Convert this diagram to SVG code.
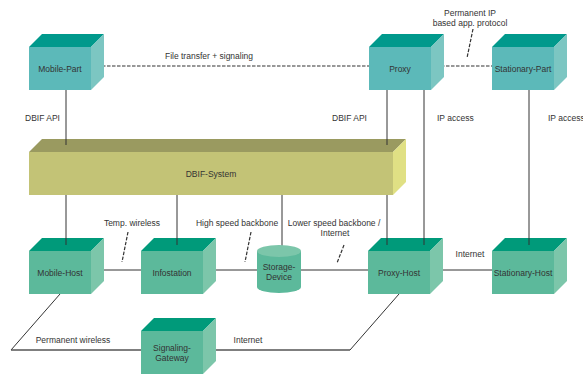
<svg xmlns="http://www.w3.org/2000/svg" width="583" height="374" viewBox="0 0 583 374">
<style>
text{font-family:"Liberation Sans",Arial,sans-serif;font-size:8.5px;fill:#333;}
.c{text-anchor:middle;}
.ptop{fill:#00998c;} .pfront{fill:#5cb9b9;} .pside{fill:#7cc6c2;}
.htop{fill:#009a7a;} .hfront{fill:#5cb99b;} .hside{fill:#7cc6aa;}
.ln{stroke:#333;stroke-width:1;fill:none;}
.gl{stroke:#555;stroke-width:1.6;fill:none;}
.ds{stroke:#333;stroke-width:1.2;stroke-dasharray:3.5,1.5;fill:none;}
</style>
<rect width="583" height="374" fill="#fff"/>
<g id="connectors">
<path class="ds" d="M97,66H369M436,66H492M473,29L467,58"/>
<path class="ln" d="M66,90V245M387,90V245M424,90V245M529,90V245M177,195V245M282,195V250"/>
<path class="ln" d="M97,270H141M208,270H257M301,270H368M436,270H492"/>
<path class="ds" d="M128,232L122,262M251,232L245,262M344,245L337,263"/>
<path class="ln" d="M60,294L11,350M399,294L350,350"/>
<path class="gl" d="M11,350H141M208,350H350"/>
</g>
<g id="labels">
<text class="c" x="209" y="59">File transfer + signaling</text>
<text class="c" x="470" y="16">Permanent IP</text>
<text class="c" x="470" y="26">based app. protocol</text>
<text x="25" y="121">DBIF API</text>
<text x="332" y="121">DBIF API</text>
<text x="437" y="121">IP access</text>
<text x="548" y="121">IP access</text>
<text class="c" x="132" y="226">Temp. wireless</text>
<text class="c" x="237" y="226">High speed backbone</text>
<text class="c" x="334" y="226">Lower speed backbone /</text>
<text class="c" x="335" y="236">Internet</text>
<text class="c" x="470" y="257">Internet</text>
<text class="c" x="73" y="343">Permanent wireless</text>
<text class="c" x="248" y="343">Internet</text>
</g>
<g id="mobile-part">
<polygon class="ptop" points="29,47 42,34 104,34 91,47"/>
<rect class="pfront" x="29" y="47" width="62" height="43"/>
<polygon class="pside" points="91,47 104,34 104,77 91,90"/>
<text class="c" x="60" y="72">Mobile-Part</text>
</g>
<g id="proxy">
<polygon class="ptop" points="369,47 382,34 444,34 431,47"/>
<rect class="pfront" x="369" y="47" width="62" height="43"/>
<polygon class="pside" points="431,47 444,34 444,77 431,90"/>
<text class="c" x="400" y="72">Proxy</text>
</g>
<g id="stationary-part">
<polygon class="ptop" points="492,47 505,34 567,34 554,47"/>
<rect class="pfront" x="492" y="47" width="62" height="43"/>
<polygon class="pside" points="554,47 567,34 567,77 554,90"/>
<text class="c" x="523" y="72">Stationary-Part</text>
</g>
<g id="dbif-system">
<polygon fill="#9a9a60" points="29,152 42,139 406,139 393,152"/>
<rect fill="#c3c376" x="29" y="152" width="364" height="43"/>
<polygon fill="#e0e084" points="393,152 406,139 406,182 393,195"/>
<text class="c" x="211" y="177">DBIF-System</text>
</g>
<g id="connectors-over">
<path class="ln" d="M66,139V145M387,139V145"/>
</g>
<g id="mobile-host">
<polygon class="htop" points="29,251 42,238 104,238 91,251"/>
<rect class="hfront" x="29" y="251" width="62" height="43"/>
<polygon class="hside" points="91,251 104,238 104,281 91,294"/>
<text class="c" x="60" y="276">Mobile-Host</text>
</g>
<g id="infostation">
<polygon class="htop" points="141,251 154,238 216,238 203,251"/>
<rect class="hfront" x="141" y="251" width="62" height="43"/>
<polygon class="hside" points="203,251 216,238 216,281 203,294"/>
<text class="c" x="172" y="276">Infostation</text>
</g>
<g id="storage-device">
<path class="hfront" d="M257,251V287A22,6 0 0 0 301,287V251Z"/>
<ellipse cx="279" cy="251" rx="22" ry="6" fill="#7cc6aa"/>
<text class="c" x="279" y="270">Storage-</text>
<text class="c" x="279" y="280">Device</text>
</g>
<g id="proxy-host">
<polygon class="htop" points="368,251 381,238 443,238 430,251"/>
<rect class="hfront" x="368" y="251" width="62" height="43"/>
<polygon class="hside" points="430,251 443,238 443,281 430,294"/>
<text class="c" x="399" y="276">Proxy-Host</text>
</g>
<g id="stationary-host">
<polygon class="htop" points="492,251 505,238 567,238 554,251"/>
<rect class="hfront" x="492" y="251" width="62" height="43"/>
<polygon class="hside" points="554,251 567,238 567,281 554,294"/>
<text class="c" x="523" y="276">Stationary-Host</text>
</g>
<g id="signaling-gateway">
<polygon class="htop" points="141,331 154,318 216,318 203,331"/>
<rect class="hfront" x="141" y="331" width="62" height="43"/>
<polygon class="hside" points="203,331 216,318 216,361 203,374"/>
<text class="c" x="172" y="351">Signaling-</text>
<text class="c" x="172" y="361">Gateway</text>
</g>
<g id="top-stubs">
<path class="ln" d="M66,238V245M387,238V245M424,238V245M529,238V245M177,238V245"/>
</g>
</svg>
